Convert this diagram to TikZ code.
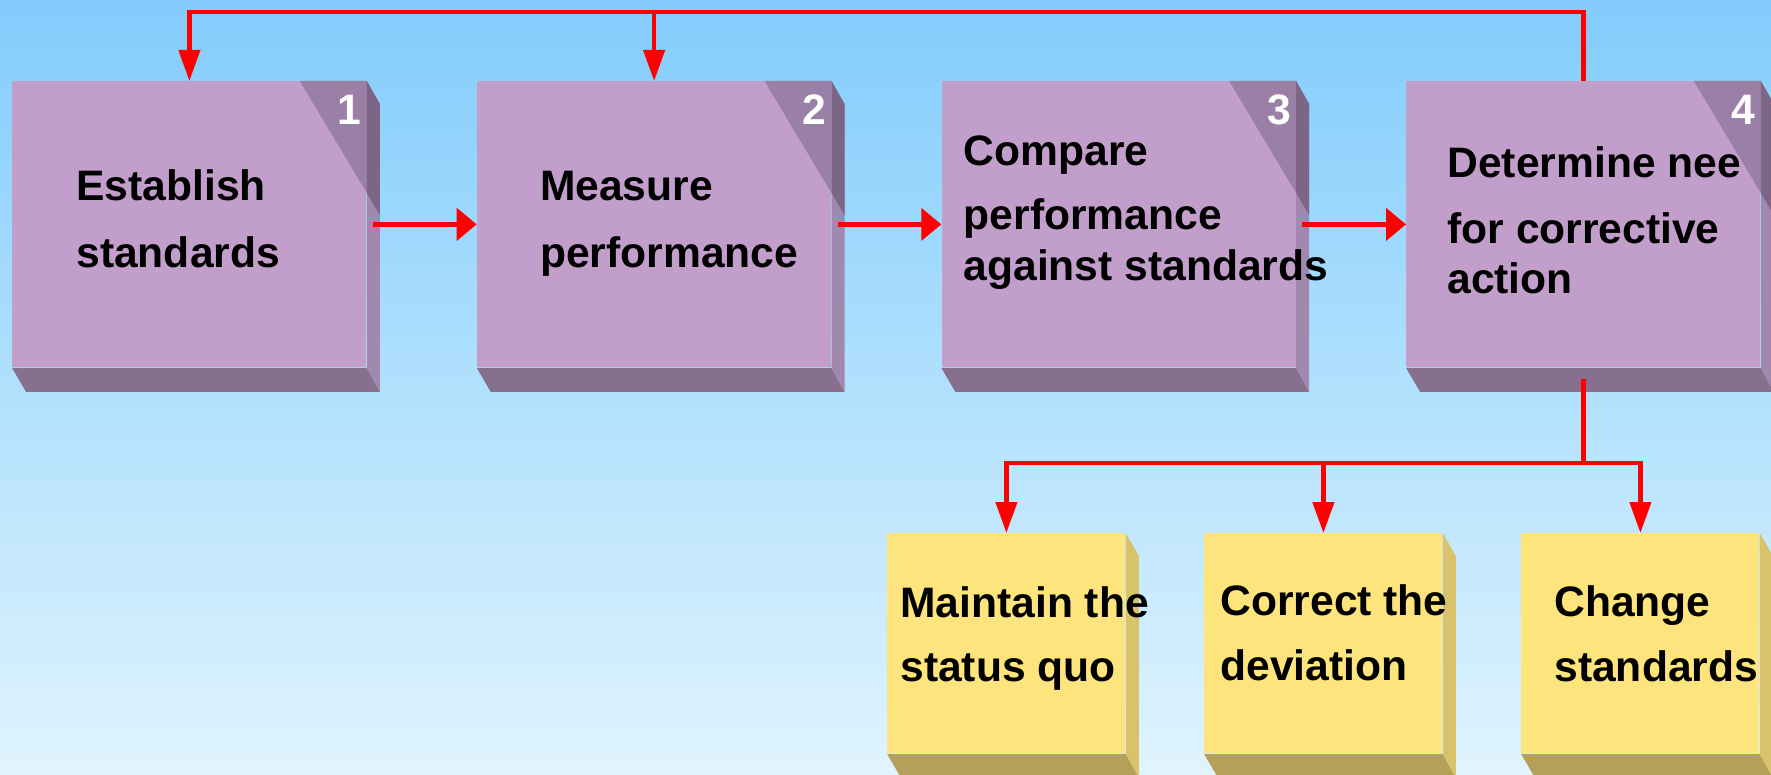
\documentclass[tikz,border=0pt]{standalone}
\usepackage{fontspec}
\setmainfont{Liberation Sans}
\usetikzlibrary{arrows.meta,calc}

\definecolor{skytop}{RGB}{130,204,252}
\definecolor{skybot}{RGB}{224,244,254}
\definecolor{lilac}{RGB}{194,158,203}
\definecolor{lilacside}{RGB}{161,136,174}
\definecolor{lilacbot}{RGB}{134,112,141}
\definecolor{lilacfold}{RGB}{154,128,166}
\definecolor{lilacdark}{RGB}{125,101,133}
\definecolor{butter}{RGB}{254,228,124}
\definecolor{butterside}{RGB}{216,195,106}
\definecolor{butterbot}{RGB}{180,160,88}

\begin{document}
\begin{tikzpicture}[x=0.5pt,y=-0.5pt,
    stepface/.style={fill=lilac, minimum width=177pt, minimum height=143pt, anchor=north west, inner sep=0},
    actface/.style={fill=butter, minimum width=119pt, minimum height=110pt, anchor=north west, inner sep=0},
    boxtext/.style={font=\fontsize{21.3}{25}\selectfont\bfseries, align=left, inner sep=0, anchor=base west},
    numtext/.style={font=\fontsize{21.3}{25}\selectfont\bfseries, text=white, inner sep=0, anchor=base east},
    flow/.style={draw=red, line width=2.2pt},
    flowv/.style={flow, -{Triangle[length=15.5pt,width=10.5pt]}},
    flowh/.style={flow, -{Triangle[length=10pt,width=16pt]}}]
    \useasboundingbox (0,0) rectangle (1771,775);
    \shade[top color=skytop, bottom color=skybot] (0,0) rectangle (1771,775);
    \clip (0,0) rectangle (1771,775);
    % control steps (text placed by its last baseline)
    \foreach \i/\x/\dx/\dy/\txt in {1/12/64/186/{Establish\\[8pt]standards},
        2/476.7/63/186/{Measure\\[8pt]performance},
        3/941.3/22/199/{Compare\\[7.5pt]performance\\against standards},
        4/1406/41/212/{Determine nee\\[8pt]for corrective\\action}} {
      \node[stepface] (s\i) at (\x,81) {};
      \fill[lilacbot] (s\i.south west) -- (s\i.south east) -- ([shift={(13,24)}]s\i.south east)
        -- ([shift={(14,24)}]s\i.south west) -- cycle;
      \fill[lilacside] (s\i.north east) -- ([shift={(13,23)}]s\i.north east)
        -- ([shift={(13,24)}]s\i.south east) -- (s\i.south east) -- cycle;
      \fill[lilacfold] (s\i.north east) -- ([shift={(-67,0)}]s\i.north east)
        -- ([shift={(0,112)}]s\i.north east) -- cycle;
      \fill[lilacdark] (s\i.north east) -- ([shift={(13,23)}]s\i.north east)
        -- ([shift={(13,134)}]s\i.north east) -- ([shift={(0,112)}]s\i.north east) -- cycle;
      \node[numtext] (n\i) at ([shift={(-5,44)}]s\i.north east) {\i};
      \node[boxtext] (t\i) at ([shift={(\dx,\dy)}]s\i.north west) {\txt};
    }
    % possible actions
    \foreach \i/\x/\dx/\dy/\txt in {1/887/13/148/{Maintain the\\[7pt]status quo},
        2/1204/16/147/{Correct the\\[7.5pt]deviation},
        3/1521/33/148/{Change\\[7.5pt]standards}} {
      \node[actface] (a\i) at (\x,533) {};
      \fill[butterbot] (a\i.south west) -- (a\i.south east) -- ([shift={(13,24)}]a\i.south east)
        -- ([shift={(14,24)}]a\i.south west) -- cycle;
      \fill[butterside] (a\i.north east) -- ([shift={(13,23)}]a\i.north east)
        -- ([shift={(13,24)}]a\i.south east) -- (a\i.south east) -- cycle;
      \node[boxtext] (u\i) at ([shift={(\dx,\dy)}]a\i.north west) {\txt};
    }
    % feedback
    \coordinate (top) at ($(s4.north)+(0,-69)$);
    \draw[flowv] (s4.north) -- (top) -| (s1.north);
    \draw[flowv] (s2.north |- top) -- (s2.north);
    % forward
    \foreach \i [evaluate=\i as \j using int(\i+1)] in {1,2,3} {
      \draw[flowh] ([shift={(6,0)}]s\i.east) -- (s\j.west);
    }
    % outcomes
    \coordinate (split) at ($(s4.south)+(0,95)$);
    \draw[flow] ([shift={(0,11)}]s4.south) -- (split);
    \draw[flowv] (split) -| (a1.north);
    \draw[flowv] (split) -| (a3.north);
    \draw[flowv] (a2.north |- split) -- (a2.north);
\end{tikzpicture}
\end{document}
